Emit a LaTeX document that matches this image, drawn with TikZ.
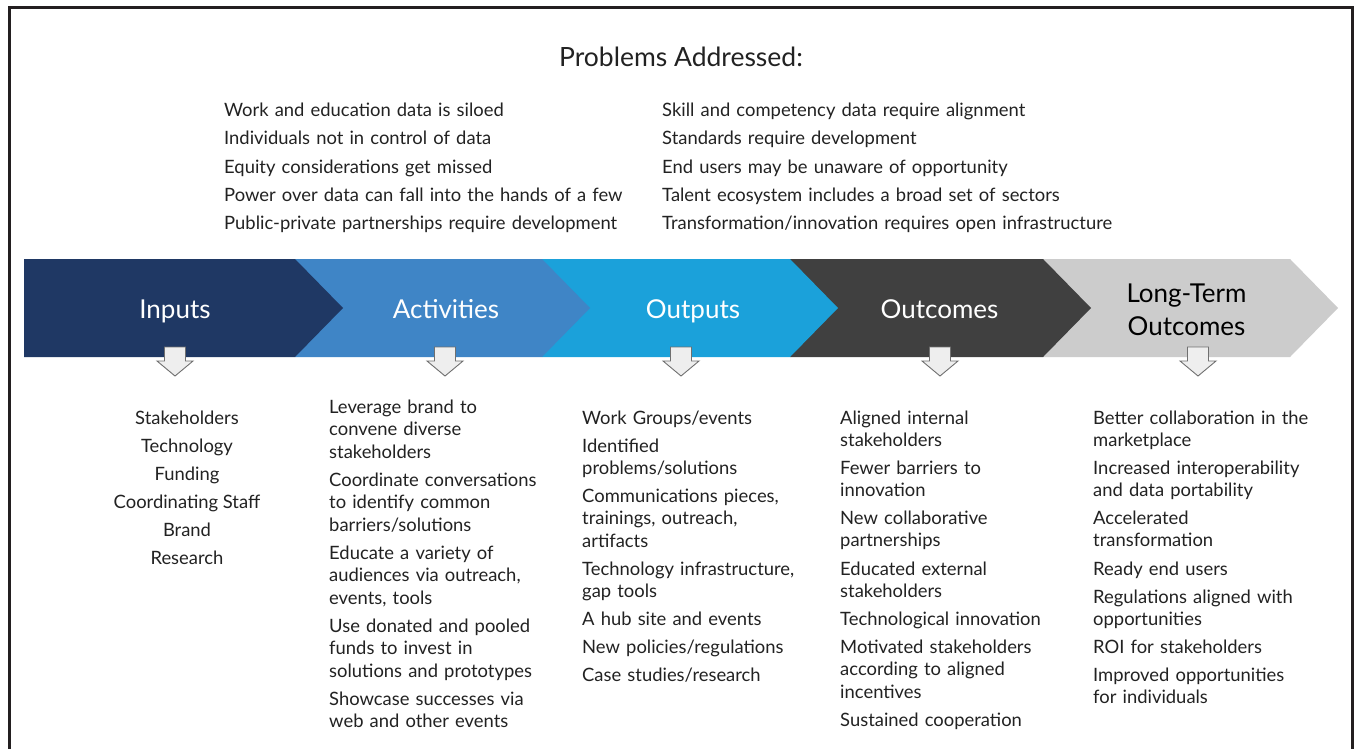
\documentclass[tikz,border=0pt]{standalone}
\usepackage{fontspec}
\setmainfont{Lato}
\definecolor{frameC}{HTML}{231F20}
\definecolor{cInputs}{HTML}{1F3864}
\definecolor{cAct}{HTML}{3F85C6}
\definecolor{cOut}{HTML}{1BA1DA}
\definecolor{cOutc}{HTML}{404040}
\definecolor{cLTO}{HTML}{CCCCCC}
\definecolor{txt}{HTML}{222222}
\definecolor{arrF}{HTML}{EEEEEE}
\definecolor{arrD}{HTML}{707070}
\newcommand\bodyfont{\fontsize{18.4}{22.5}\selectfont}
\newcommand\headfont{\fontsize{26}{33}\selectfont}
\newcommand\titlefont{\fontsize{26.5}{28}\selectfont}
\tikzset{
  item/.style={anchor=base west, align=left, text width=500pt, inner sep=0pt, font=\bodyfont, text=txt},
  citem/.style={anchor=base, inner sep=0pt, font=\bodyfont, text=txt},
  head/.style={anchor=base, inner sep=0pt, font=\headfont, text=white, align=center, text width=220pt},
  downarr/.style={fill=arrF, draw=arrD, line width=0.9pt, line join=miter},
}
\newcommand\chevron[4]{% color, left, topright, tip
  \fill[#1] (#2,259) -- (#3,259) -- (#4,308) -- (#3,357) -- (#2,357) -- cycle;}
\newcommand\darr[1]{%
  \draw[downarr] (#1-10.5,347) -- (#1+10.5,347) -- (#1+10.5,361) -- (#1+18,361) -- (#1,376) -- (#1-18,361) -- (#1-10.5,361) -- cycle;}
\begin{document}
\begin{tikzpicture}[x=1pt,y=-1pt]
\useasboundingbox (0,0) rectangle (1354,749);
\fill[white] (0,0) rectangle (1354,749);
% frame
\draw[frameC, line width=2.7pt] (9.7,760) -- (9.7,7.5) -- (1352.5,7.5) -- (1352.5,760);

% title
\node[anchor=base, inner sep=0pt, font=\titlefont, text=txt] (title) at (681,67) {Problems Addressed:};

% problems
\node[item] (p1) at (224,117) {Work and education data is siloed};
\node[item] (p2) at (224,145) {Individuals not in control of data};
\node[item] (p3) at (224,173) {Equity considerations get missed};
\node[item] (p4) at (224,201) {Power over data can fall into the hands of a few};
\node[item] (p5) at (224,229) {Public-private partnerships require development};
\node[item] (q1) at (662,117) {Skill and competency data require alignment};
\node[item] (q2) at (662,145) {Standards require development};
\node[item] (q3) at (662,173) {End users may be unaware of opportunity};
\node[item] (q4) at (662,201) {Talent ecosystem includes a broad set of sectors};
\node[item] (q5) at (662,229) {Transformation/innovation requires open infrastructure};

% chevrons (back to front)
\chevron{cLTO}{1043}{1290}{1338}
\chevron{cOutc}{790}{1043}{1091}
\chevron{cOut}{542}{790}{838}
\chevron{cAct}{295}{542}{590}
\chevron{cInputs}{24}{295}{343}

\node[head] (hIn) at (175,318) {Inputs};
\node[head] (hAct) at (446,318) {Activities};
\node[head] (hOut) at (693,318) {Outputs};
\node[head] (hOutc) at (939.5,318) {Outcomes};
\node[head, text=black] (hLTO) at (1186.5,302) {Long-Term\\Outcomes};

% down arrows
\darr{175}
\darr{445}
\darr{681}
\darr{940}
\darr{1198}

% inputs
\node[citem] (i1) at (187,424) {Stakeholders};
\node[citem] (i2) at (187,452) {Technology};
\node[citem] (i3) at (187,480) {Funding};
\node[citem] (i4) at (187,508) {Coordinating Staff};
\node[citem] (i5) at (187,536) {Brand};
\node[citem] (i6) at (187,564) {Research};

% activities
\node[item] (a1) at (329,413) {Leverage brand to\\convene diverse\\stakeholders};
\node[item] (a2) at (329,486) {Coordinate conversations\\to identify common\\barriers/solutions};
\node[item] (a3) at (329,559) {Educate a variety of\\audiences via outreach,\\events, tools};
\node[item] (a4) at (329,632) {Use donated and pooled\\funds to invest in\\solutions and prototypes};
\node[item] (a5) at (329,705) {Showcase successes via\\web and other events};

% outputs
\node[item] (o1) at (582,424) {Work Groups/events};
\node[item] (o2) at (582,452) {Identified\\problems/solutions};
\node[item] (o3) at (582,502) {Communications pieces,\\trainings, outreach,\\artifacts};
\node[item] (o4) at (582,575) {Technology infrastructure,\\gap tools};
\node[item] (o5) at (582,625) {A hub site and events};
\node[item] (o6) at (582,653) {New policies/regulations};
\node[item] (o7) at (582,681) {Case studies/research};

% outcomes
\node[item] (u1) at (840,424) {Aligned internal\\stakeholders};
\node[item] (u2) at (840,474) {Fewer barriers to\\innovation};
\node[item] (u3) at (840,524) {New collaborative\\partnerships};
\node[item] (u4) at (840,575) {Educated external\\stakeholders};
\node[item] (u5) at (840,625) {Technological innovation};
\node[item] (u6) at (840,653) {Motivated stakeholders\\according to aligned\\incentives};
\node[item] (u7) at (840,726) {Sustained cooperation};

% long-term outcomes
\node[item] (l1) at (1093,424) {Better collaboration in the\\marketplace};
\node[item] (l2) at (1093,474) {Increased interoperability\\and data portability};
\node[item] (l3) at (1093,524) {Accelerated\\transformation};
\node[item] (l4) at (1093,575) {Ready end users};
\node[item] (l5) at (1093,603) {Regulations aligned with\\opportunities};
\node[item] (l6) at (1093,653) {ROI for stakeholders};
\node[item] (l7) at (1093,681) {Improved opportunities\\for individuals};
\end{tikzpicture}
\end{document}
